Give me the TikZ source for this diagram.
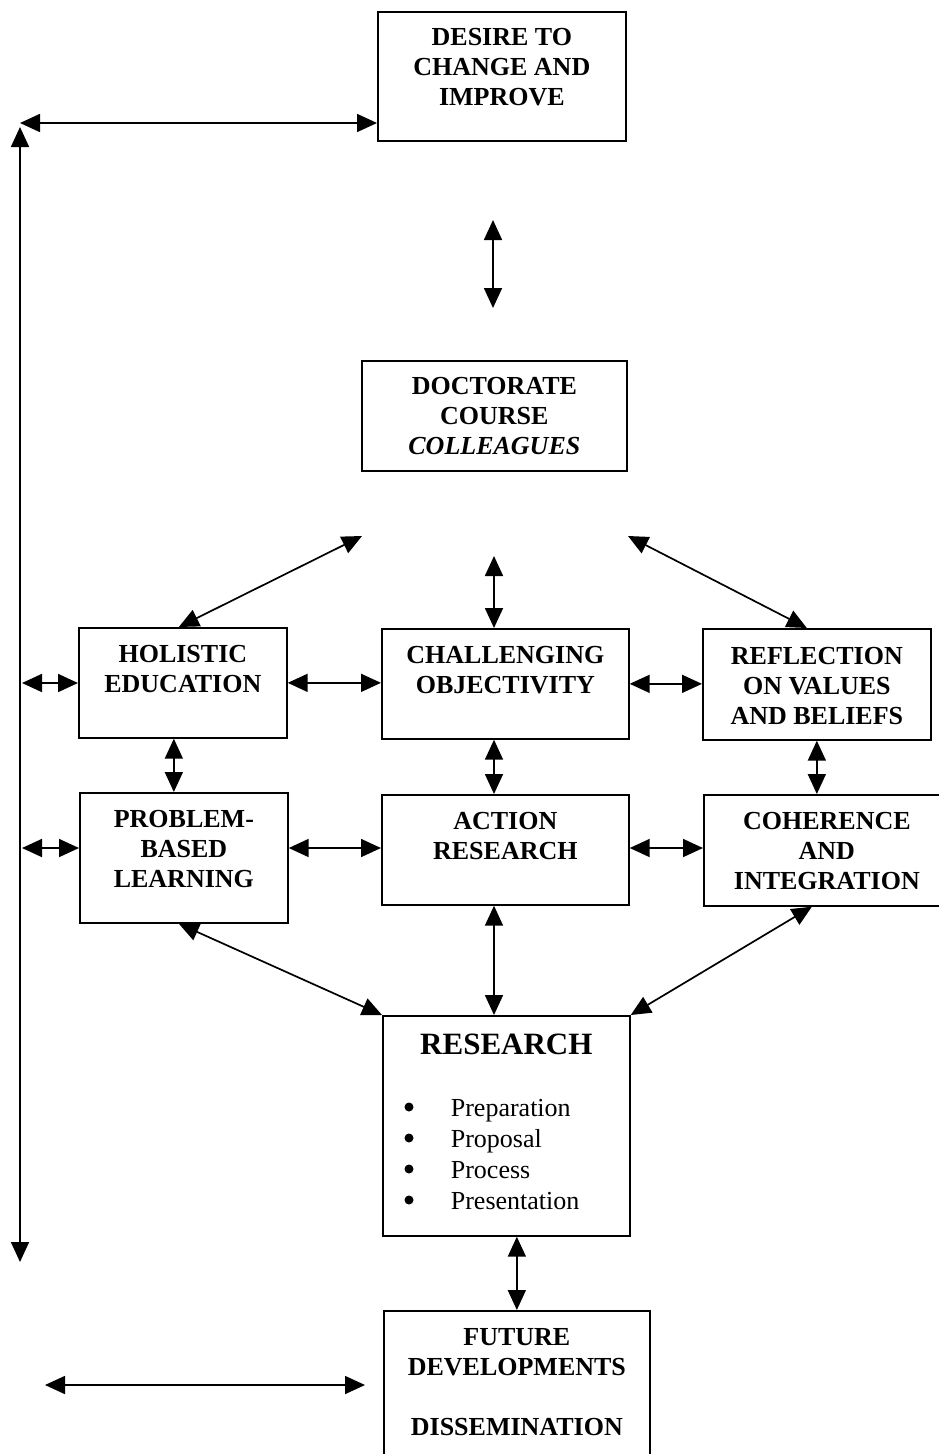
\documentclass[tikz,border=0pt]{standalone}
\usepackage{fontspec}
\setmainfont{Liberation Serif}
\usetikzlibrary{arrows.meta}
% boxed text: width, height, space above first line, lines
\newcommand\boxtext[4]{\parbox[c][#2][t]{#1}{\vspace*{#3}\centering\fontsize{26}{30}\selectfont\bfseries\rule{0pt}{21pt}#4}}
% one list entry in the research box (its bullet is drawn separately)
\newcommand\listentry[1]{\hspace*{68pt}#1}
\begin{document}
\begin{tikzpicture}[x=1pt,y=-1pt,
  box/.style={draw, line width=1.7pt, inner sep=0pt, anchor=north west},
  dbl/.style={line width=1.7pt, >={Triangle[length=20pt,width=18pt]}, <->}]
\useasboundingbox (0,0) rectangle (939,1454);
\clip (0,0) rectangle (939,1454);

% boxes
\node[box] (desire) at (377,11) {\boxtext{248pt}{129pt}{12.5pt}{DESIRE TO\\CHANGE AND\\IMPROVE}};
\node[box] (doctorate) at (361,360) {\boxtext{265pt}{110pt}{12.5pt}{DOCTORATE\\COURSE\\\textit{COLLEAGUES}}};
\node[box] (holistic) at (78,627) {\boxtext{208pt}{110pt}{13.5pt}{HOLISTIC\\EDUCATION}};
\node[box] (challenging) at (381,628) {\boxtext{247pt}{110pt}{13.5pt}{CHALLENGING\\OBJECTIVITY}};
\node[box] (reflection) at (702,628) {\boxtext{228pt}{111pt}{14.5pt}{REFLECTION\\ON VALUES\\AND BELIEFS}};
\node[box] (problem) at (79,792) {\boxtext{208pt}{130pt}{13.5pt}{PROBLEM-\\BASED\\LEARNING}};
\node[box] (action) at (381,794) {\boxtext{247pt}{110pt}{13.5pt}{ACTION\\RESEARCH}};
\node[box] (coherence) at (703,794) {\boxtext{246pt}{111pt}{13.5pt}{COHERENCE\\AND\\INTEGRATION}};
\node[box] (research) at (382,1015) {\parbox[c][220pt][t]{247pt}{\vspace*{16.3pt}\centering
  \fontsize{31}{36}\selectfont\bfseries\rule{0pt}{22pt}RESEARCH\par
  \vspace{31pt}\raggedright\fontsize{26}{31}\selectfont\mdseries
  \listentry{Preparation}\\
  \listentry{Proposal}\\
  \listentry{Process}\\
  \listentry{Presentation}}};
\node[box] (future) at (383,1310) {\boxtext{266pt}{160pt}{13.5pt}{FUTURE\\DEVELOPMENTS\\[30pt]DISSEMINATION}};

% list bullets in the research box
\foreach \k in {0,...,3}
  \fill[shift={(research.north west)}] (27,{92+31*\k}) circle (4.5pt);

% free ends of connectors
\coordinate (tl) at (20,123);
\coordinate (vt) at (20,127);
\coordinate (vb) at (20,1262);
\coordinate (a1) at (493,220);
\coordinate (a2) at (493,308);
\coordinate (dl) at (362,536);
\coordinate (dc) at (494,556);
\coordinate (dr) at (628,536);
\coordinate (lh) at (22,683);
\coordinate (lp) at (22,848);
\coordinate (bl) at (45,1385);
\coordinate (br) at (365,1385);

% connectors
\draw[dbl] (tl) -- (tl -| desire.west);
\draw[dbl] (vt) -- (vb);
\draw[dbl] (a1) -- (a2);
\draw[dbl] (dl) -- ([xshift=-4pt]holistic.north);
\draw[dbl] (dc) -- (dc |- challenging.north);
\draw[dbl] (dr) -- ([xshift=-10pt]reflection.north);
\draw[dbl] (lh) -- (lh -| holistic.west);
\draw[dbl] (lp) -- (lp -| problem.west);
\draw[dbl] (holistic.east) -- (holistic.east -| challenging.west);
\draw[dbl] (challenging.east) -- (challenging.east -| reflection.west);
\draw[dbl] (problem.east |- lp) -- (lp -| action.west);
\draw[dbl] (action.east |- lp) -- (lp -| coherence.west);
\draw[dbl] ([xshift=-9pt]holistic.south) -- ([xshift=-9pt]holistic.south |- problem.north);
\draw[dbl] (dc |- challenging.south) -- (dc |- action.north);
\draw[dbl] (reflection.south) -- (reflection.south |- coherence.north);
\draw[dbl] ([xshift=-5pt]problem.south) -- (research.north west);
\draw[dbl] (dc |- action.south) -- (dc |- research.north);
\draw[dbl] ([xshift=-15pt]coherence.south) -- (research.north east);
\draw[dbl] (future.north |- research.south) -- (future.north);
\draw[dbl] (bl) -- (br);
\end{tikzpicture}
\end{document}
